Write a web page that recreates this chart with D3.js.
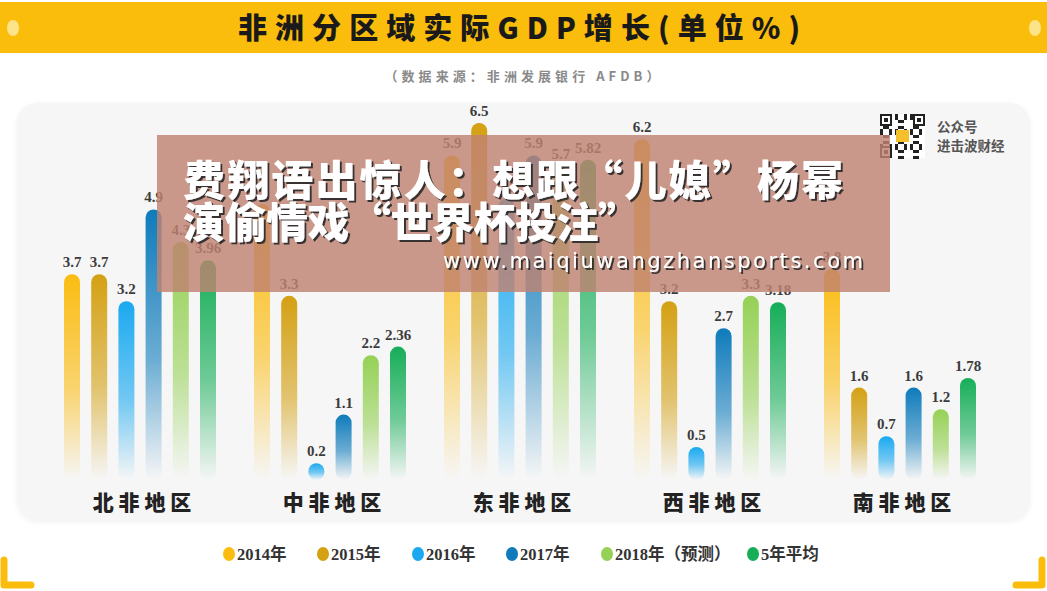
<!DOCTYPE html>
<html><head><meta charset="utf-8">
<script src="https://cdn.jsdelivr.net/npm/d3@7"></script>
<style>
body{margin:0;background:#fff;}
svg{display:block;}
</style></head>
<body>
<svg id="chart" width="1047" height="591"></svg>
<script>
const regions = ["北非地区","中非地区","东非地区","西非地区","南非地区"];
const regionLabels = ["北 非 地 区","中 非 地 区","东 非 地 区","西 非 地 区","南 非 地 区"];
const seriesKeys = ["2014","2015","2016","2017","2018","avg"];
const seriesNames = ["2014年","2015年","2016年","2017年","2018年（预测）","5年平均"];
const seriesColors = ["#fbbc12","#d4a113","#1aa9f0","#0e7bbb","#95d155","#16ae58"];
const v2014 = [3.7, 5.0, 5.9, 6.2, 3.8];
const v2015 = [3.7, 3.3, 6.5, 3.2, 1.6];
const v2016 = [3.2, 0.2, 5.1, 0.5, 0.7];
const v2017 = [4.9, 1.1, 5.9, 2.7, 1.6];
const v2018 = [4.3, 2.2, 5.7, 3.3, 1.2];
const vAvg  = [3.96, 2.36, 5.82, 3.18, 1.78];
const seriesValues = [v2014, v2015, v2016, v2017, v2018, vAvg];

const svg = d3.select("#chart");
const defs = svg.append("defs");

// top banner
svg.append("rect").attr("x",0).attr("y",2).attr("width",1047).attr("height",51).attr("fill","#fbbd0c");
svg.append("ellipse").attr("cx",13).attr("cy",28).attr("rx",6).attr("ry",8).attr("fill","#fde38a");
svg.append("ellipse").attr("cx",1035).attr("cy",28).attr("rx",6).attr("ry",8).attr("fill","#fde38a");
svg.append("text").attr("x",519).attr("y",39).attr("text-anchor","middle")
  .attr("font-family","'Noto Sans CJK SC'").attr("font-weight",900).attr("font-size",29)
  .attr("fill","#1a1a1a").attr("textLength",562).attr("lengthAdjust","spacing")
  .text("非洲分区域实际GDP增长(单位%)");
svg.append("text").attr("x",522).attr("y",81).attr("text-anchor","middle")
  .attr("font-family","'Noto Sans CJK SC'").attr("font-weight",700).attr("font-size",13)
  .attr("fill","#8a8a8a").attr("textLength",275).attr("lengthAdjust","spacing")
  .text("（数据来源：非洲发展银行  AFDB）");

// panel
const sh = defs.append("filter").attr("id","panelShadow").attr("x","-5%").attr("y","-5%").attr("width","110%").attr("height","110%");
sh.append("feDropShadow").attr("dx",0).attr("dy",1).attr("stdDeviation",2).attr("flood-color","#000").attr("flood-opacity",0.06);
svg.append("rect").attr("x",17).attr("y",103).attr("width",1013).attr("height",418).attr("rx",20)
  .attr("fill","#f6f6f6").attr("filter","url(#panelShadow)");

// scales
const x0 = d3.scalePoint().domain(regions).range([72, 832]);
const x1 = d3.scalePoint().domain(seriesKeys).range([0, 136]);
const y = d3.scaleLinear().domain([0, 7]).range([474, 96]);
const color = d3.scaleOrdinal().domain(seriesKeys).range(seriesColors);
const barW = 16;

seriesKeys.forEach((k,i)=>{
  const g = defs.append("linearGradient").attr("id","grad"+k).attr("x1",0).attr("y1",0).attr("x2",0).attr("y2",1);
  g.append("stop").attr("offset","0%").attr("stop-color",seriesColors[i]).attr("stop-opacity",1);
  g.append("stop").attr("offset","55%").attr("stop-color",seriesColors[i]).attr("stop-opacity",0.6);
  g.append("stop").attr("offset","100%").attr("stop-color",seriesColors[i]).attr("stop-opacity",0);
});

const data = [];
regions.forEach((r,ri)=>{
  seriesKeys.forEach((k,si)=>{
    data.push({region:r, key:k, value:seriesValues[si][ri]});
  });
});

const bars = svg.append("g");
bars.selectAll("rect").data(data).join("rect")
  .attr("x", d=>x0(d.region)+x1(d.key)-barW/2)
  .attr("y", d=>y(d.value))
  .attr("width", barW)
  .attr("height", d=>y(0)-y(d.value)+6)
  .attr("rx", barW/2)
  .attr("fill", d=>"url(#grad"+d.key+")");

svg.append("g").selectAll("text").data(data).join("text")
  .attr("x", d=>x0(d.region)+x1(d.key))
  .attr("y", d=>y(d.value)-7)
  .attr("text-anchor","middle")
  .attr("font-family","'Liberation Serif', 'DejaVu Serif', serif")
  .attr("font-weight","bold").attr("font-size",15).attr("fill","#3c3c3c")
  .text(d=>String(d.value));

// region labels
const centerOff = (x1.range()[0]+x1.range()[1])/2;
svg.append("g").selectAll("text").data(regions).join("text")
  .attr("x", d=>x0(d)+centerOff+2)
  .attr("y", 510)
  .attr("text-anchor","middle")
  .attr("font-family","'Noto Sans CJK SC'").attr("font-weight",900).attr("font-size",21)
  .attr("fill","#222")
  .text((d,i)=>regionLabels[i]);

// legend
const legendX = [229, 323, 418, 512, 607, 753];
const lg = svg.append("g").selectAll("g").data(seriesKeys).join("g")
  .attr("transform",(d,i)=>`translate(${legendX[i]},554)`);
lg.append("ellipse").attr("rx",6).attr("ry",7).attr("fill",d=>color(d));
lg.append("text").attr("x",8).attr("y",6)
  .attr("font-family","'Liberation Serif', 'Noto Sans CJK SC', serif").attr("font-weight","bold")
  .attr("font-size",16.5).attr("fill","#333")
  .text((d,i)=>seriesNames[i]);

// corner brackets
svg.append("path").attr("d","M4,560 L4,585 L31,585").attr("fill","none").attr("stroke","#fbbd0c")
  .attr("stroke-width",7).attr("stroke-linecap","round").attr("stroke-linejoin","round");
svg.append("path").attr("d","M1042,560 L1042,585 L1016,585").attr("fill","none").attr("stroke","#fbbd0c")
  .attr("stroke-width",7).attr("stroke-linecap","round").attr("stroke-linejoin","round");

// QR-like mark
const qr = svg.append("g").attr("transform","translate(880,114)");
qr.append("rect").attr("width",45).attr("height",44).attr("fill","#fff");
const cells = [];
for(let i=0;i<15;i++) for(let j=0;j<15;j++){
  const inFinder = (i<4&&j<4)||(i<4&&j>10)||(i>10&&j<4);
  if(!inFinder && ((i*7+j*11+i*j)%5<2)) cells.push([i,j]);
}
qr.selectAll("rect.c").data(cells).join("rect").attr("class","c")
  .attr("x",d=>d[0]*3).attr("y",d=>d[1]*3).attr("width",3).attr("height",3).attr("fill","#222");
[[0,0],[33,0],[0,32]].forEach(p=>{
  qr.append("rect").attr("x",p[0]+1).attr("y",p[1]+1).attr("width",10).attr("height",10).attr("fill","none").attr("stroke","#222").attr("stroke-width",2);
  qr.append("rect").attr("x",p[0]+4).attr("y",p[1]+4).attr("width",4).attr("height",4).attr("fill","#222");
});
qr.append("rect").attr("x",16).attr("y",16).attr("width",13).attr("height",12).attr("fill","#f5c02a");
svg.append("text").attr("x",937).attr("y",132).attr("font-family","'Noto Sans CJK SC'").attr("font-weight",700)
  .attr("font-size",13.5).attr("fill","#555").text("公众号");
svg.append("text").attr("x",937).attr("y",151).attr("font-family","'Noto Sans CJK SC'").attr("font-weight",700)
  .attr("font-size",13.5).attr("fill","#555").text("进击波财经");

// overlay
const ts = defs.append("filter").attr("id","txtShadow").attr("x","-5%").attr("y","-20%").attr("width","110%").attr("height","140%");
ts.append("feDropShadow").attr("dx",2).attr("dy",2).attr("stdDeviation",0.6).attr("flood-color","#2a2a2a").attr("flood-opacity",0.9);
svg.append("rect").attr("x",157).attr("y",135).attr("width",733).attr("height",157)
  .attr("fill","rgb(192,131,113)").attr("fill-opacity",0.82);
const ov = svg.append("g").attr("filter","url(#txtShadow)");
ov.append("text").attr("x",183).attr("y",196).attr("font-family","'Noto Sans CJK SC'").attr("font-weight",900)
  .attr("font-size",42).attr("fill","#fff").attr("textLength",660).attr("lengthAdjust","spacing")
  .text("费翔语出惊人：想跟“儿媳”杨幂");
ov.append("text").attr("x",183).attr("y",238).attr("font-family","'Noto Sans CJK SC'").attr("font-weight",900)
  .attr("font-size",42).attr("fill","#fff").attr("textLength",457).attr("lengthAdjust","spacing")
  .text("演偷情戏“世界杯投注”");
ov.append("text").attr("x",443).attr("y",268).attr("font-family","'DejaVu Sans', sans-serif")
  .attr("font-size",21).attr("fill","#fff").attr("textLength",420).attr("lengthAdjust","spacing")
  .text("www.maiqiuwangzhansports.com");
</script>
</body></html>
